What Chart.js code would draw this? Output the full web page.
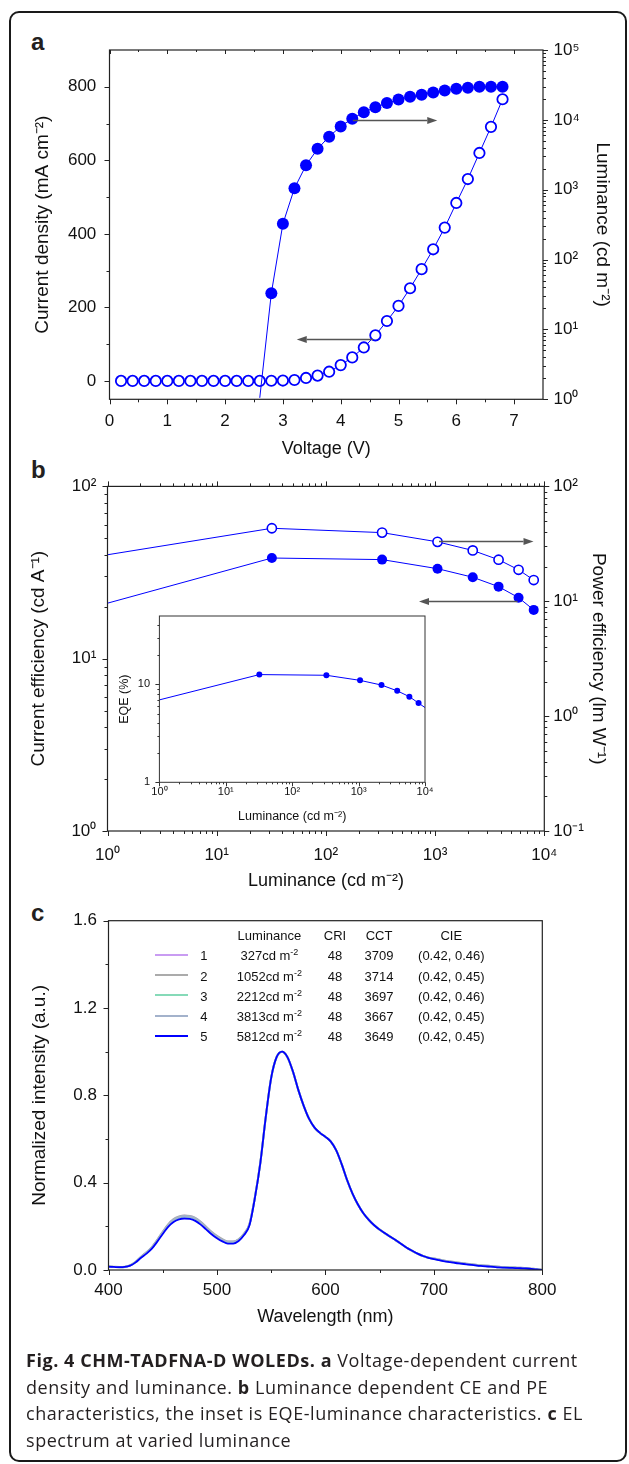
<!DOCTYPE html>
<html><head><meta charset="utf-8">
<script src="https://cdn.jsdelivr.net/npm/chart.js@4.4.1/dist/chart.umd.min.js"></script>
<style>
html,body{margin:0;padding:0;background:#fff;}
#page{position:relative;width:629px;height:1464px;overflow:hidden;background:#fff;font-family:"Liberation Sans",Arial,sans-serif;color:#111;}
#frame{position:absolute;left:9px;top:11px;width:614px;height:1447px;border:2px solid #1a1a1a;border-radius:10px;box-sizing:content-box;}
canvas{position:absolute;}
.pl{position:absolute;font:bold 24px "Liberation Sans",Arial,sans-serif;line-height:1;color:#231f20;}
.lg{position:absolute;font-size:13px;line-height:1;white-space:nowrap;transform:translate(-50%,-50%);color:#111;}
.lg sup{font-size:9px;vertical-align:5px;line-height:0;}
.lgline{position:absolute;height:2px;}
.cap{position:absolute;left:26px;font-family:"Open Sans",sans-serif;font-size:18px;letter-spacing:0.55px;line-height:26.7px;color:#231f20;white-space:nowrap;}
</style></head>
<body>
<div id="page">
  <div id="frame"></div>
  <div class="pl" style="left:31px;top:29.7px">a</div>
  <div class="pl" style="left:31px;top:457.7px">b</div>
  <div class="pl" style="left:31px;top:901.4px">c</div>
  <canvas id="ca" width="629" height="450" style="left:0;top:20px"></canvas>
  <canvas id="cb" width="629" height="440" style="left:0;top:465px"></canvas>
  <canvas id="ci" width="340" height="230" style="left:100px;top:600px"></canvas>
  <canvas id="cc" width="629" height="450" style="left:0;top:890px"></canvas>
  <div id="legend"></div>
  <div class="cap" style="top:1347px"><b>Fig. 4 CHM-TADFNA-D WOLEDs. a</b> Voltage-dependent current</div>
  <div class="cap" style="top:1373.7px">density and luminance. <b>b</b> Luminance dependent CE and PE</div>
  <div class="cap" style="top:1400.4px">characteristics, the inset is EQE-luminance characteristics. <b>c</b> EL</div>
  <div class="cap" style="top:1427.1px">spectrum at varied luminance</div>
</div>
<script>
// ---------------- DATA ----------------
// Panel a: J-V-L
const voltJ = [0.2,0.4,0.6,0.8,1.0,1.2,1.4,1.6,1.8,2.0,2.2,2.4,2.6,2.8,3.0,3.2,3.4,3.6,3.8,4.0,4.2,4.4,4.6,4.8,5.0,5.2,5.4,5.6,5.8,6.0,6.2,6.4,6.6,6.8];
const currentDensity = [0,0,0,0,0,0,0,0,0,0,0,0,0,0.5,1,2.5,8,14.5,25,43,64,91,124,163,204,252,304,358,417,484,549,620,691,766];
const voltL = [2.6,2.8,3.0,3.2,3.4,3.6,3.8,4.0,4.2,4.4,4.6,4.8,5.0,5.2,5.4,5.6,5.8,6.0,6.2,6.4,6.6,6.8];
const luminanceA = [1.05,33,325,1050,2240,3850,5750,8040,10370,12880,15140,17380,19500,21380,22900,24550,26300,27860,28840,29800,29800,29800];
const markerA = [0,1,1,1,1,1,1,1,1,1,1,1,1,1,1,1,1,1,1,1,1,1];

// Panel b: CE / PE vs luminance (first entry = line start at left edge)
const lumB = [1,32,327,1052,2212,3813,5812,8000];
const currentEff = [21,38.4,37.6,33.3,29.7,26.2,22.6,19.2];
const powerEff = [25.4,43.2,39.6,32.9,27.7,23.0,18.8,15.3];
const markerB = [0,1,1,1,1,1,1,1];

// Inset: EQE vs luminance
const lumInset = [1,32,327,1052,2212,3813,5812,8000,10000];
const eqe = [6.95,12.6,12.4,11.0,9.85,8.6,7.5,6.44,5.8];
const markerI = [0,1,1,1,1,1,1,1,0];

// Panel c: EL spectra
const wavelength = [400,405,410,415,420,425,430,435,440,445,450,455,460,465,470,475,480,485,490,495,500,505,510,515,520,525,530,535,540,545,550,555,560,565,570,575,580,585,590,595,600,605,610,615,620,625,630,635,640,645,650,655,660,665,670,675,680,685,690,695,700,705,710,715,720,725,730,735,740,745,750,755,760,765,770,775,780,785,790,795,800];
const spec1 = [0.015,0.014,0.013,0.014,0.021,0.037,0.060,0.080,0.104,0.137,
0.173,0.207,0.231,0.243,0.248,0.246,0.237,0.219,0.196,0.173,
0.154,0.139,0.129,0.129,0.140,0.166,0.210,0.333,0.492,0.700,
0.880,0.975,1.000,0.975,0.910,0.825,0.752,0.692,0.652,0.628,
0.610,0.588,0.548,0.485,0.412,0.350,0.300,0.260,0.230,0.205,
0.185,0.168,0.152,0.136,0.119,0.102,0.088,0.075,0.064,0.056,
0.051,0.046,0.041,0.037,0.033,0.030,0.027,0.024,0.021,0.019,
0.017,0.015,0.013,0.012,0.011,0.010,0.009,0.007,0.005,0.003,0.000];
const spec2 = [0.016,0.015,0.014,0.015,0.022,0.038,0.061,0.081,0.105,0.138,
0.175,0.209,0.233,0.245,0.250,0.248,0.239,0.221,0.198,0.175,
0.156,0.141,0.131,0.131,0.141,0.167,0.211,0.334,0.492,0.700,
0.880,0.975,1.000,0.975,0.910,0.825,0.752,0.692,0.652,0.628,
0.610,0.588,0.548,0.485,0.412,0.350,0.300,0.260,0.230,0.205,
0.185,0.168,0.152,0.136,0.119,0.102,0.088,0.075,0.064,0.056,
0.053,0.048,0.043,0.039,0.035,0.032,0.029,0.026,0.023,0.021,
0.019,0.017,0.015,0.013,0.012,0.011,0.010,0.008,0.006,0.004,0.001];
const spec3 = [0.015,0.014,0.013,0.014,0.021,0.036,0.059,0.079,0.102,0.135,
0.171,0.204,0.228,0.240,0.245,0.243,0.234,0.216,0.193,0.170,
0.151,0.136,0.127,0.127,0.138,0.164,0.208,0.332,0.491,0.700,
0.880,0.975,1.000,0.975,0.910,0.825,0.752,0.692,0.652,0.628,
0.610,0.588,0.548,0.485,0.412,0.350,0.300,0.260,0.230,0.205,
0.185,0.168,0.152,0.136,0.119,0.102,0.088,0.075,0.064,0.056,
0.051,0.046,0.041,0.037,0.033,0.030,0.027,0.024,0.021,0.019,
0.017,0.015,0.013,0.012,0.011,0.010,0.009,0.007,0.005,0.003,0.000];
const spec4 = [0.015,0.014,0.013,0.014,0.021,0.037,0.060,0.080,0.103,0.136,
0.172,0.206,0.230,0.242,0.247,0.245,0.236,0.218,0.195,0.172,
0.153,0.138,0.129,0.129,0.139,0.165,0.209,0.333,0.491,0.700,
0.880,0.975,1.000,0.975,0.910,0.825,0.752,0.692,0.652,0.628,
0.610,0.588,0.548,0.485,0.412,0.350,0.300,0.260,0.230,0.205,
0.185,0.168,0.152,0.136,0.119,0.102,0.088,0.075,0.064,0.056,
0.053,0.048,0.043,0.039,0.035,0.032,0.029,0.026,0.023,0.021,
0.019,0.017,0.015,0.013,0.012,0.011,0.010,0.008,0.006,0.004,0.001];
const spec5 = [0.015,0.014,0.013,0.014,0.020,0.035,0.056,0.075,0.098,0.130,
0.165,0.198,0.220,0.232,0.236,0.234,0.225,0.208,0.186,0.164,
0.146,0.131,0.121,0.121,0.133,0.160,0.205,0.330,0.490,0.700,
0.880,0.975,1.000,0.975,0.910,0.825,0.752,0.692,0.652,0.628,
0.610,0.588,0.548,0.485,0.412,0.350,0.300,0.260,0.230,0.205,
0.185,0.168,0.152,0.136,0.119,0.102,0.088,0.075,0.064,0.056,
0.050,0.045,0.040,0.036,0.032,0.029,0.026,0.023,0.020,0.018,
0.016,0.014,0.012,0.011,0.010,0.009,0.008,0.007,0.005,0.003,0.000];
const spectra = [spec1,spec2,spec3,spec4,spec5];
const specNames = ['1','2','3','4','5'];
const specLum = ['327','1052','2212','3813','5812'];
const specCRI = ['48','48','48','48','48'];
const specCCT = ['3709','3714','3697','3667','3649'];
const specCIE = ['(0.42, 0.46)','(0.42, 0.45)','(0.42, 0.46)','(0.42, 0.45)','(0.42, 0.45)'];
const specColors = ['#c99cf2','#ababab','#86dab8','#a3b2cb','#0000ff'];

// Tick values
const xMajorA = [0,1,2,3,4,5,6,7];
const xMinorA = [0.5,1.5,2.5,3.5,4.5,5.5,6.5];
const yMajorA = [0,200,400,600,800];
const yMinorA = [100,300,500,700];
const xMajorC = [400,500,600,700,800];
const xMinorC = [450,550,650,750];
const yMajorC = [0,0.4,0.8,1.2,1.6];
const yMinorC = [0.2,0.6,1.0,1.4];

// ---------------- HELPERS ----------------
const FONT = '"Liberation Sans", Arial, sans-serif';
Chart.defaults.font.family = FONT;
Chart.defaults.color = '#111';
const SUP = {'-':'\u207B','0':'\u2070','1':'\u00B9','2':'\u00B2','3':'\u00B3','4':'\u2074','5':'\u2075','6':'\u2076','7':'\u2077','8':'\u2078','9':'\u2079'};
const pow10 = v => '10' + String(Math.round(Math.log10(v))).split('').map(c => SUP[c]).join('');
const decades = (e0, e1) => { const r = []; for (let e = e0; e <= e1; e++) r.push(Math.pow(10, e)); return r.map(v => parseFloat(v.toPrecision(3))); };
const logMinor = (e0, e1) => { const r = []; for (let e = e0; e < e1; e++) for (let m = 2; m <= 9; m++) r.push(parseFloat((m * Math.pow(10, e)).toPrecision(3))); return r; };
const setTicks = vals => s => { s.ticks = vals.map(v => ({value: v})); };
const fixW = w => s => { s.width = w; };
const fixH = h => s => { s.height = h; };
const noGrid = {display: false, drawTicks: false};
const noBorder = {display: false};

const marksPlugin = {
  id: 'marks',
  afterDatasetsDraw(chart, args, o) {
    const ctx = chart.ctx;
    ctx.save();
    (o.arrows || []).forEach(ar => {
      const xs = chart.scales[ar.xScale], ys = chart.scales[ar.yScale];
      const x1 = xs.getPixelForValue(ar.from), x2 = xs.getPixelForValue(ar.to), y = Math.round(ys.getPixelForValue(ar.at)) + 0.5;
      const dir = Math.sign(x2 - x1), head = 10, hw = 3.5;
      ctx.strokeStyle = '#555'; ctx.fillStyle = '#555'; ctx.lineWidth = 1.5;
      ctx.beginPath(); ctx.moveTo(x1, y); ctx.lineTo(x2 - dir * head, y); ctx.stroke();
      ctx.beginPath(); ctx.moveTo(x2, y); ctx.lineTo(x2 - dir * head, y - hw); ctx.lineTo(x2 - dir * head, y + hw); ctx.closePath(); ctx.fill();
    });
    ctx.restore();
  },
  afterDraw(chart, args, o) {
    const ctx = chart.ctx, a = chart.chartArea;
    ctx.save();
    ctx.strokeStyle = o.color || '#222';
    ctx.lineWidth = o.lineWidth || 1.2;
    ctx.strokeRect(a.left, a.top, a.right - a.left, a.bottom - a.top);
    ctx.lineWidth = 1;
    (o.ticks || []).forEach(t => {
      const s = chart.scales[t.scale];
      const sg = t.dir === 'in' ? -1 : 1;
      ctx.beginPath();
      t.values.forEach(v => {
        const p = Math.round(s.getPixelForValue(v)) + 0.5;
        if (t.edge === 'bottom') { ctx.moveTo(p, a.bottom); ctx.lineTo(p, a.bottom + sg * t.len); }
        else if (t.edge === 'top') { ctx.moveTo(p, a.top); ctx.lineTo(p, a.top - sg * t.len); }
        else if (t.edge === 'left') { ctx.moveTo(a.left, p); ctx.lineTo(a.left - sg * t.len, p); }
        else { ctx.moveTo(a.right, p); ctx.lineTo(a.right + sg * t.len, p); }
      });
      ctx.stroke();
    });
    ctx.restore();
  }
};

const baseOpts = (padding) => ({
  responsive: false, animation: false, devicePixelRatio: 1, events: [],
  layout: {padding: padding, autoPadding: false},
});

// ---------------- PANEL A ----------------
new Chart(document.getElementById('ca'), {
  type: 'line',
  data: {datasets: [
    {label: 'Luminance', yAxisID: 'yR', data: voltL.map((v, i) => ({x: v, y: luminanceA[i]})),
     borderColor: '#0000ff', borderWidth: 1, backgroundColor: '#0000ff',
     pointBackgroundColor: '#0000ff', pointBorderColor: '#0000ff', pointBorderWidth: 0,
     pointRadius: markerA.map(m => m ? 6 : 0), tension: 0},
    {label: 'Current density', yAxisID: 'y', data: voltJ.map((v, i) => ({x: v, y: currentDensity[i]})),
     borderColor: '#0000ff', borderWidth: 1, backgroundColor: '#ffffff',
     pointBackgroundColor: '#ffffff', pointBorderColor: '#0000ff', pointBorderWidth: 1.8,
     pointRadius: 5.2, tension: 0}
  ]},
  options: Object.assign(baseOpts({top: 30, left: 0, right: 0, bottom: 0}), {
    plugins: {legend: {display: false}, tooltip: {enabled: false},
      marks: {
        ticks: [
          {scale: 'x', edge: 'bottom', dir: 'out', len: 5, values: xMajorA},
          {scale: 'x', edge: 'bottom', dir: 'out', len: 3, values: xMinorA},
          {scale: 'x', edge: 'top', dir: 'in', len: 4, values: xMajorA},
          {scale: 'x', edge: 'top', dir: 'in', len: 2, values: xMinorA},
          {scale: 'y', edge: 'left', dir: 'out', len: 5, values: yMajorA},
          {scale: 'y', edge: 'left', dir: 'out', len: 3, values: yMinorA},
          {scale: 'yR', edge: 'right', dir: 'out', len: 5, values: decades(0, 5)},
          {scale: 'yR', edge: 'right', dir: 'out', len: 3, values: logMinor(0, 5)}
        ],
        arrows: [
          {xScale: 'x', yScale: 'yR', from: 4.21, to: 5.67, at: 10000},
          {xScale: 'x', yScale: 'y', from: 4.56, to: 3.24, at: 115}
        ]
      }},
    scales: {
      x: {type: 'linear', position: 'bottom', min: 0, max: 7.5, afterBuildTicks: setTicks(xMajorA), afterFit: fixH(70.7),
          grid: noGrid, border: noBorder,
          ticks: {padding: 12.2, font: {size: 17}, autoSkip: false, maxRotation: 0},
          title: {display: true, text: 'Voltage (V)', font: {size: 18}, padding: {top: 0, bottom: 10.2}}},
      y: {type: 'linear', position: 'left', min: -50, max: 900, afterBuildTicks: setTicks(yMajorA), afterFit: fixW(109.5),
          grid: noGrid, border: noBorder,
          ticks: {padding: 13.2, font: {size: 17}, autoSkip: false},
          title: {display: true, text: 'Current density (mA cm\u207B\u00B2)', font: {size: 19}, padding: {top: 31.6, bottom: 0}}},
      yR: {type: 'logarithmic', position: 'right', min: 1, max: 100000, afterBuildTicks: setTicks(decades(0, 5)), afterFit: fixW(86),
          grid: noGrid, border: noBorder,
          ticks: {padding: 10.5, font: {size: 17}, autoSkip: false, callback: v => pow10(v)},
          title: {display: true, text: 'Luminance (cd m\u207B\u00B2)', font: {size: 19}, padding: {top: 15.6, bottom: 0}}}
    }
  }),
  plugins: [marksPlugin]
});

// ---------------- PANEL B ----------------
new Chart(document.getElementById('cb'), {
  type: 'line',
  data: {datasets: [
    {label: 'Power efficiency', yAxisID: 'yR', data: lumB.map((v, i) => ({x: v, y: powerEff[i]})),
     borderColor: '#0000ff', borderWidth: 1, backgroundColor: '#ffffff',
     pointBackgroundColor: '#ffffff', pointBorderColor: '#0000ff', pointBorderWidth: 1.6,
     pointRadius: markerB.map(m => m ? 4.6 : 0), tension: 0},
    {label: 'Current efficiency', yAxisID: 'y', data: lumB.map((v, i) => ({x: v, y: currentEff[i]})),
     borderColor: '#0000ff', borderWidth: 1, backgroundColor: '#0000ff',
     pointBackgroundColor: '#0000ff', pointBorderColor: '#0000ff', pointBorderWidth: 0,
     pointRadius: markerB.map(m => m ? 5 : 0), tension: 0}
  ]},
  options: Object.assign(baseOpts({top: 17.7, left: 0, right: 0, bottom: 0}), {
    plugins: {legend: {display: false}, tooltip: {enabled: false},
      marks: {
        ticks: [
          {scale: 'x', edge: 'bottom', dir: 'out', len: 5, values: decades(0, 4)},
          {scale: 'x', edge: 'bottom', dir: 'out', len: 3, values: logMinor(0, 4)},
          {scale: 'x', edge: 'top', dir: 'out', len: 5, values: decades(0, 4)},
          {scale: 'x', edge: 'top', dir: 'out', len: 3, values: logMinor(0, 4)},
          {scale: 'y', edge: 'left', dir: 'out', len: 5, values: decades(0, 2)},
          {scale: 'y', edge: 'left', dir: 'out', len: 3, values: logMinor(0, 2)},
          {scale: 'yR', edge: 'right', dir: 'out', len: 5, values: decades(-1, 2)},
          {scale: 'yR', edge: 'right', dir: 'out', len: 3, values: logMinor(-1, 2)}
        ],
        arrows: [
          {xScale: 'x', yScale: 'yR', from: 1086, to: 7960, at: 33.6},
          {xScale: 'x', yScale: 'y', from: 5690, to: 712, at: 21.5}
        ]
      }},
    scales: {
      x: {type: 'logarithmic', position: 'bottom', min: 1, max: 10000, afterBuildTicks: setTicks(decades(0, 4)), afterFit: fixH(74),
          grid: noGrid, border: noBorder,
          ticks: {padding: 13.8, font: {size: 17}, autoSkip: false, maxRotation: 0, callback: v => pow10(v)},
          title: {display: true, text: 'Luminance (cd m\u207B\u00B2)', font: {size: 18}, padding: {top: 0, bottom: 13.5}}},
      y: {type: 'logarithmic', position: 'left', min: 1, max: 100, afterBuildTicks: setTicks(decades(0, 2)), afterFit: fixW(107.5),
          grid: noGrid, border: noBorder,
          ticks: {padding: 11.2, font: {size: 17}, autoSkip: false, callback: v => pow10(v)},
          title: {display: true, text: 'Current efficiency (cd A\u207B\u00B9)', font: {size: 19}, padding: {top: 27.6, bottom: 0}}},
      yR: {type: 'logarithmic', position: 'right', min: 0.1, max: 100, afterBuildTicks: setTicks(decades(-1, 2)), afterFit: fixW(84.7),
          grid: noGrid, border: noBorder,
          ticks: {padding: 9, font: {size: 17}, autoSkip: false, callback: v => pow10(v)},
          title: {display: true, text: 'Power efficiency (lm W\u207B\u00B9)', font: {size: 19}, padding: {top: 19.1, bottom: 0}}}
    }
  }),
  plugins: [marksPlugin]
});

// ---------------- INSET ----------------
new Chart(document.getElementById('ci'), {
  type: 'line',
  data: {datasets: [
    {label: 'EQE', data: lumInset.map((v, i) => ({x: v, y: eqe[i]})),
     borderColor: '#0000ff', borderWidth: 1, backgroundColor: '#0000ff',
     pointBackgroundColor: '#0000ff', pointBorderColor: '#0000ff', pointBorderWidth: 0,
     pointRadius: markerI.map(m => m ? 3 : 0), tension: 0}
  ]},
  options: Object.assign(baseOpts({top: 10.7, left: 0, right: 15, bottom: 0}), {
    plugins: {legend: {display: false}, tooltip: {enabled: false},
      marks: {
        color: '#333', lineWidth: 1,
        ticks: [
          {scale: 'x', edge: 'bottom', dir: 'out', len: 4, values: decades(0, 4)},
          {scale: 'x', edge: 'bottom', dir: 'out', len: 2, values: logMinor(0, 4)},
          {scale: 'y', edge: 'left', dir: 'out', len: 4, values: [1, 10]},
          {scale: 'y', edge: 'left', dir: 'out', len: 2, values: logMinor(0, 1).concat([20, 30, 40])}
        ]
      }},
    scales: {
      x: {type: 'logarithmic', position: 'bottom', min: 1, max: 10000, afterBuildTicks: setTicks(decades(0, 4)), afterFit: fixH(47.7),
          grid: noGrid, border: noBorder,
          ticks: {padding: 2.8, font: {size: 11}, autoSkip: false, maxRotation: 0, callback: v => pow10(v)},
          title: {display: true, text: 'Luminance (cd m\u207B\u00B2)', font: {size: 12.5}, padding: {top: 0, bottom: 5.8}}},
      y: {type: 'logarithmic', position: 'left', min: 1, max: 50, afterBuildTicks: setTicks([1, 10]), afterFit: fixW(59.4),
          grid: noGrid, border: noBorder,
          ticks: {padding: 9.4, font: {size: 11}, autoSkip: false, callback: v => String(v)},
          title: {display: true, text: 'EQE (%)', font: {size: 12.5}, padding: {top: 17.5, bottom: 0}}}
    }
  }),
  plugins: [marksPlugin]
});

// ---------------- PANEL C ----------------
new Chart(document.getElementById('cc'), {
  type: 'line',
  data: {datasets: spectra.map((s, k) => ({
    label: specNames[k], data: wavelength.map((w, i) => ({x: w, y: s[i]})),
    borderColor: specColors[k], borderWidth: k === 4 ? 1.8 : 2, pointRadius: 0,
    cubicInterpolationMode: 'monotone', order: 5 - k, fill: false
  }))},
  options: Object.assign(baseOpts({top: 30.7, left: 0, right: 86.7, bottom: 0}), {
    plugins: {legend: {display: false}, tooltip: {enabled: false},
      marks: {
        ticks: [
          {scale: 'x', edge: 'bottom', dir: 'out', len: 5, values: xMajorC},
          {scale: 'x', edge: 'bottom', dir: 'out', len: 3, values: xMinorC},
          {scale: 'y', edge: 'left', dir: 'out', len: 5, values: yMajorC},
          {scale: 'y', edge: 'left', dir: 'out', len: 3, values: yMinorC}
        ]
      }},
    scales: {
      x: {type: 'linear', position: 'bottom', min: 400, max: 800, afterBuildTicks: setTicks(xMajorC), afterFit: fixH(70),
          grid: noGrid, border: noBorder,
          ticks: {padding: 10.5, font: {size: 17}, autoSkip: false, maxRotation: 0},
          title: {display: true, text: 'Wavelength (nm)', font: {size: 18}, padding: {top: 0, bottom: 11.9}}},
      y: {type: 'linear', position: 'left', min: 0, max: 1.6, afterBuildTicks: setTicks(yMajorC), afterFit: fixW(108.5),
          grid: noGrid, border: noBorder,
          ticks: {padding: 11.5, font: {size: 17}, autoSkip: false, callback: v => v.toFixed(1)},
          title: {display: true, text: 'Normalized intensity (a.u.)', font: {size: 19}, padding: {top: 28.6, bottom: 0}}}
    }
  }),
  plugins: [marksPlugin]
});

// ---------------- LEGEND TABLE (panel c) ----------------
(function () {
  const lg = document.getElementById('legend');
  const put = (x, y, html) => { const d = document.createElement('div'); d.className = 'lg'; d.style.left = x + 'px'; d.style.top = y + 'px'; d.innerHTML = html; lg.appendChild(d); };
  const colX = {num: 203.8, lum: 269.4, cri: 335, cct: 379, cie: 451.3};
  const headY = 934.7, rowY0 = 955.2, rowDy = 20.3;
  put(colX.lum, headY, 'Luminance');
  put(colX.cri, headY, 'CRI');
  put(colX.cct, headY, 'CCT');
  put(colX.cie, headY, 'CIE');
  specNames.forEach((n, i) => {
    const y = rowY0 + i * rowDy;
    const ln = document.createElement('div'); ln.className = 'lgline';
    ln.style.left = '154.5px'; ln.style.width = '33px'; ln.style.top = (y - 1.5) + 'px'; ln.style.background = specColors[i];
    lg.appendChild(ln);
    put(colX.num, y, n);
    put(colX.lum, y, specLum[i] + 'cd m<sup>-2</sup>');
    put(colX.cri, y, specCRI[i]);
    put(colX.cct, y, specCCT[i]);
    put(colX.cie, y, specCIE[i]);
  });
})();
</script>
</body></html>
